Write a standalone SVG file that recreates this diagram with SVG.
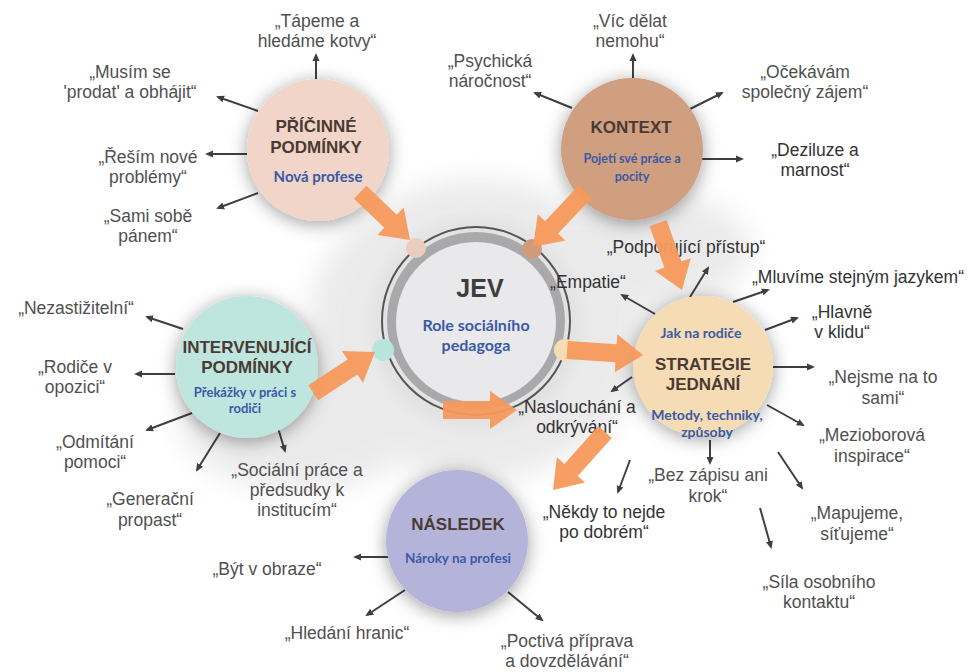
<svg xmlns="http://www.w3.org/2000/svg" width="976" height="672" viewBox="0 0 976 672">
<defs>
  <filter id="sh" x="-50%" y="-50%" width="200%" height="200%">
    <feGaussianBlur in="SourceAlpha" stdDeviation="9"/>
    <feOffset dx="0" dy="3" result="b"/>
    <feFlood flood-color="#000" flood-opacity="0.38"/>
    <feComposite in2="b" operator="in"/>
    <feMerge><feMergeNode/><feMergeNode in="SourceGraphic"/></feMerge>
  </filter>
  <filter id="glow" x="-30%" y="-30%" width="160%" height="160%">
    <feGaussianBlur stdDeviation="14"/>
  </filter>
  <marker id="ah" viewBox="0 0 8 8" refX="6" refY="4" markerWidth="8" markerHeight="8" markerUnits="userSpaceOnUse" orient="auto">
    <path d="M0,0.5 L8,4 L0,7.5 Z" fill="#3f3f3f"/>
  </marker>
  <style>
    .lbl{font-family:"Liberation Sans",Arial,sans-serif;font-size:17.5px;fill:#505050;text-anchor:middle}
    .dk{fill:#333}
    .ttl{font-family:"Liberation Sans",Arial,sans-serif;font-size:17px;font-weight:bold;fill:#4a3a33;text-anchor:middle}
    .sub{font-family:Lato,"Liberation Sans",sans-serif;font-weight:bold;fill:#3a5aa6;text-anchor:middle}
    .ln{stroke:#3f3f3f;stroke-width:2;fill:none;marker-end:url(#ah)}
    .oa{fill:#f7995c;opacity:0.95}
  </style>
</defs>
<rect width="976" height="672" fill="#ffffff"/>
<g filter="url(#glow)" fill="#e2e2e2" opacity="0.7">
  <ellipse cx="478" cy="330" rx="170" ry="150"/>
  <ellipse cx="640" cy="250" rx="110" ry="60"/>
  <ellipse cx="300" cy="420" rx="120" ry="70"/>
</g>

<g id="connectors">
  <line class="ln" x1="316" y1="80" x2="316" y2="55"/>
  <line class="ln" x1="258" y1="111" x2="218" y2="97"/>
  <line class="ln" x1="247" y1="154" x2="207" y2="154"/>
  <line class="ln" x1="258" y1="193" x2="218" y2="208"/>

  <line class="ln" x1="633" y1="80" x2="633" y2="55"/>
  <line class="ln" x1="572" y1="108" x2="535" y2="93"/>
  <line class="ln" x1="690" y1="109" x2="722" y2="93"/>
  <line class="ln" x1="702" y1="159" x2="742" y2="159"/>

  <line class="ln" x1="183" y1="329" x2="147" y2="317"/>
  <line class="ln" x1="175" y1="374" x2="136" y2="374"/>
  <line class="ln" x1="192" y1="413" x2="147" y2="430"/>
  <line class="ln" x1="220" y1="433" x2="197" y2="470"/>
  <line class="ln" x1="278" y1="428" x2="285" y2="451"/>

  <line class="ln" x1="655" y1="314" x2="622" y2="295"/>
  <line class="ln" x1="690" y1="297" x2="708" y2="268"/>
  <line class="ln" x1="733" y1="302" x2="768" y2="290"/>
  <line class="ln" x1="765" y1="330" x2="797" y2="318"/>
  <line class="ln" x1="773" y1="367" x2="813" y2="367"/>
  <line class="ln" x1="767" y1="405" x2="803" y2="425"/>
  <line class="ln" x1="710" y1="440" x2="710" y2="463"/>
  <line class="ln" x1="632" y1="377" x2="612" y2="391"/>
  <line class="ln" x1="630" y1="460" x2="618" y2="492"/>
  <line class="ln" x1="778" y1="452" x2="802" y2="488"/>
  <line class="ln" x1="760" y1="508" x2="771" y2="547"/>

  <line class="ln" x1="390" y1="557" x2="355" y2="557"/>
  <line class="ln" x1="405" y1="590" x2="367" y2="615"/>
  <line class="ln" x1="508" y1="592" x2="542" y2="620"/>
</g>

<g id="jev">
  <circle cx="476" cy="321" r="94" fill="none" stroke="#555" stroke-width="2" filter="url(#sh)"/>
  <circle cx="476" cy="321" r="89" fill="#a9a9ab"/>
  <circle cx="476" cy="322" r="80" fill="#e9e9eb"/>
  <text class="ttl" x="480" y="297" style="font-size:25px;fill:#3d3d3d">JEV</text>
  <text class="sub" x="476" y="331" style="font-size:16px">Role sociálního</text>
  <text class="sub" x="476" y="351" style="font-size:16px">pedagoga</text>
  <circle cx="416" cy="248" r="10" fill="#ecccbd"/>
  <circle cx="532" cy="249" r="10" fill="#cf9c7b"/>
  <circle cx="383" cy="350" r="11" fill="#b9e4dc"/>
  <circle cx="565" cy="350" r="11" fill="#f6dcb2"/>
</g>

<g id="pricinne">
  <circle cx="318" cy="150" r="71" fill="#f0d5c8" filter="url(#sh)"/>
  <text class="ttl" x="316" y="132">PŘÍČINNÉ</text>
  <text class="ttl" x="316" y="153">PODMÍNKY</text>
  <text class="sub" x="318" y="182" style="font-size:15px">Nová profese</text>
  <text class="lbl" x="317" y="27">„Tápeme a</text>
  <text class="lbl" x="317" y="47">hledáme kotvy“</text>
  <text class="lbl" x="130" y="78">„Musím se</text>
  <text class="lbl" x="130" y="98">'prodat' a obhájit“</text>
  <text class="lbl" x="148" y="163">„Řeším nové</text>
  <text class="lbl" x="148" y="183">problémy“</text>
  <text class="lbl" x="148" y="222">„Sami sobě</text>
  <text class="lbl" x="148" y="242">pánem“</text>
</g>

<g id="kontext">
  <circle cx="632" cy="149" r="71" fill="#cf9f80" filter="url(#sh)"/>
  <text class="ttl" x="631" y="133">KONTEXT</text>
  <text class="sub" x="632" y="163" style="font-size:12.5px">Pojetí své práce a</text>
  <text class="sub" x="632" y="181" style="font-size:12.5px">pocity</text>
  <text class="lbl" x="630" y="27">„Víc dělat</text>
  <text class="lbl" x="630" y="47">nemohu“</text>
  <text class="lbl" x="490" y="67">„Psychická</text>
  <text class="lbl" x="490" y="87">náročnost“</text>
  <text class="lbl" x="805" y="78">„Očekávám</text>
  <text class="lbl" x="805" y="98">společný zájem“</text>
  <text class="lbl dk" x="815" y="156">„Deziluze a</text>
  <text class="lbl dk" x="815" y="176">marnost“</text>
</g>

<g id="intervenujici">
  <circle cx="247" cy="367" r="71" fill="#bfe6de" filter="url(#sh)"/>
  <text class="ttl" x="247" y="353">INTERVENUJÍCÍ</text>
  <text class="ttl" x="247" y="373">PODMÍNKY</text>
  <text class="sub" x="245" y="397" style="font-size:13px">Překážky v práci s</text>
  <text class="sub" x="245" y="413" style="font-size:13px">rodiči</text>
  <text class="lbl" x="76" y="314">„Nezastižitelní“</text>
  <text class="lbl" x="75" y="373">„Rodiče v</text>
  <text class="lbl" x="75" y="393">opozici“</text>
  <text class="lbl" x="95" y="448">„Odmítání</text>
  <text class="lbl" x="95" y="468">pomoci“</text>
  <text class="lbl" x="150" y="505">„Generační</text>
  <text class="lbl" x="150" y="526">propast“</text>
  <text class="lbl" x="297" y="476">„Sociální práce a</text>
  <text class="lbl" x="297" y="496">předsudky k</text>
  <text class="lbl" x="297" y="516">institucím“</text>
</g>

<g id="strategie">
  <circle cx="703" cy="366" r="70" fill="#f5dcb5" filter="url(#sh)"/>
  <text class="sub" x="701" y="338" style="font-size:14px">Jak na rodiče</text>
  <text class="ttl" x="703" y="370">STRATEGIE</text>
  <text class="ttl" x="703" y="390">JEDNÁNÍ</text>
  <text class="sub" x="707" y="420" style="font-size:14px">Metody, techniky,</text>
  <text class="sub" x="707" y="437" style="font-size:14px">způsoby</text>
  <text class="lbl dk" x="686" y="253">„Podporující přístup“</text>
  <text class="lbl dk" x="588" y="288">„Empatie“</text>
  <text class="lbl dk" x="858" y="283">„Mluvíme stejným jazykem“</text>
  <text class="lbl dk" x="842" y="318">„Hlavně</text>
  <text class="lbl dk" x="842" y="338">v klidu“</text>
  <text class="lbl" x="883" y="383">„Nejsme na to</text>
  <text class="lbl" x="883" y="404">sami“</text>
  <text class="lbl" x="872" y="441">„Mezioborová</text>
  <text class="lbl" x="872" y="462">inspirace“</text>
  <text class="lbl" x="708" y="481">„Bez zápisu ani</text>
  <text class="lbl" x="708" y="502">krok“</text>
  <text class="lbl dk" x="577" y="413">„Naslouchání a</text>
  <text class="lbl dk" x="577" y="433">odkrývání“</text>
  <text class="lbl dk" x="604" y="518">„Někdy to nejde</text>
  <text class="lbl dk" x="604" y="538">po dobrém“</text>
  <text class="lbl" x="857" y="519">„Mapujeme,</text>
  <text class="lbl" x="857" y="540">síťujeme“</text>
  <text class="lbl" x="819" y="588">„Síla osobního</text>
  <text class="lbl" x="819" y="608">kontaktu“</text>
</g>

<g id="nasledek">
  <circle cx="457" cy="541" r="71" fill="#b4b4da" filter="url(#sh)"/>
  <text class="ttl" x="458" y="530">NÁSLEDEK</text>
  <text class="sub" x="458" y="563" style="font-size:13.5px">Nároky na profesi</text>
  <text class="lbl" x="267" y="575">„Být v obraze“</text>
  <text class="lbl" x="347" y="639">„Hledání hranic“</text>
  <text class="lbl" x="567" y="647">„Poctivá příprava</text>
  <text class="lbl" x="567" y="667">a dovzdělávání“</text>
</g>

<g id="flow-arrows">
  <path class="oa" transform="translate(410,240) rotate(43.8)" d="M0,0 L-27,-19 L-27,-9 L-69,-9 L-69,9 L-27,9 L-27,19 Z"/>
  <path class="oa" transform="translate(533,247) rotate(133.4)" d="M0,0 L-27,-19 L-27,-9 L-76,-9 L-76,9 L-27,9 L-27,19 Z"/>
  <path class="oa" transform="translate(375,352) rotate(-33.5)" d="M0,0 L-27,-19 L-27,-9 L-74,-9 L-74,9 L-27,9 L-27,19 Z"/>
  <path class="oa" transform="translate(643,355) rotate(3.8)" d="M0,0 L-27,-19 L-27,-9 L-76,-9 L-76,9 L-27,9 L-27,19 Z"/>
  <path class="oa" transform="translate(682,290) rotate(70.3)" d="M0,0 L-27,-19 L-27,-9 L-71,-9 L-71,9 L-27,9 L-27,19 Z"/>
  <path class="oa" transform="translate(517,410) rotate(0)" d="M0,0 L-27,-19 L-27,-9 L-74,-9 L-74,9 L-27,9 L-27,19 Z"/>
  <path class="oa" transform="translate(553,490) rotate(131.9)" d="M0,0 L-27,-19 L-27,-9 L-78,-9 L-78,9 L-27,9 L-27,19 Z"/>
</g>
</svg>
